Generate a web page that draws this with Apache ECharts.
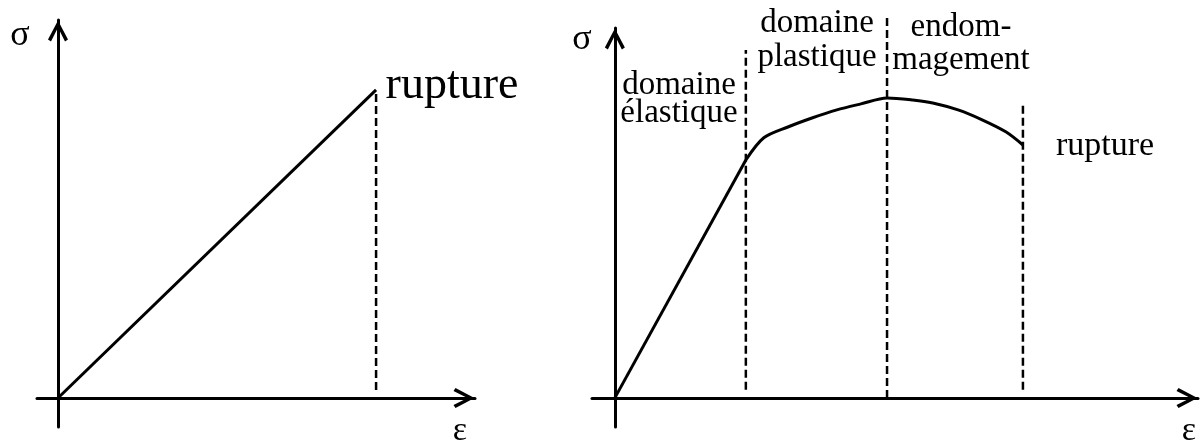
<!DOCTYPE html>
<html>
<head>
<meta charset="utf-8">
<script src="https://cdn.jsdelivr.net/npm/echarts@6/dist/echarts.min.js"></script>
<style>
  html, body { margin: 0; padding: 0; background: #fff; }
  #chart { width: 1203px; height: 446px; }
</style>
</head>
<body>
<div id="chart"></div>
<script>
// left diagram: purely elastic material, linear up to rupture
var brittleStrain = [0, 10];
var brittleStress = [0, 10];
var brittleRupture = [0.26, 9.93];   // dashed line, stress from / to

// right diagram: elastic, plastic, damage
var elasticStrain = [0, 3.21];
var elasticStress = [0, 7.93];
var plasticStrain = [3.21, 3.65, 4.24, 4.83, 5.44, 6.03, 6.67, 7.30, 7.79, 8.41, 9.0, 9.58, 10];
var plasticStress = [7.93, 8.67, 9.03, 9.33, 9.6, 9.8, 10, 9.93, 9.83, 9.6, 9.27, 8.87, 8.43];
var domainEdges = [3.21, 6.67, 10];
var domainEdgeFrom = [0.27, 0, 0.27];
var domainEdgeTo = [11.6, 12.67, 9.87];

function pairs(xs, ys) {
    return xs.map(function (x, i) { return [x, ys[i]]; });
}

var arrow = 'path://M10,0 L20,19 L17,21 L10,7 L3,21 L0,19 Z';

function axisLine() {
    return {
        show: true,
        onZero: true,
        symbol: ['none', arrow],
        symbolSize: [20, 22],
        symbolOffset: [0, -11],
        lineStyle: { color: '#000', width: 3 }
    };
}

function axis(extra) {
    var a = {
        type: 'value',
        axisLine: axisLine(),
        axisTick: { show: false },
        axisLabel: { show: false },
        splitLine: { show: false }
    };
    for (var k in extra) a[k] = extra[k];
    return a;
}

function solid(data, xi, smooth) {
    return {
        type: 'line',
        xAxisIndex: xi,
        yAxisIndex: xi,
        data: data,
        showSymbol: false,
        smooth: smooth || false,
        clip: false,
        lineStyle: { color: '#000', width: 3 }
    };
}

function dashed(x, from, to, xi) {
    return {
        type: 'line',
        xAxisIndex: xi,
        yAxisIndex: xi,
        data: [[x, from], [x, to]],
        showSymbol: false,
        clip: false,
        lineStyle: { color: '#000', width: 2.5, type: [8, 4] }
    };
}

var series = [
    solid(pairs(brittleStrain, brittleStress), 0),
    dashed(brittleStrain[1], brittleRupture[0], brittleRupture[1], 0),
    solid(pairs(elasticStrain, elasticStress), 1),
    solid(pairs(plasticStrain, plasticStress), 1, 0.3)
];
domainEdges.forEach(function (x, i) {
    series.push(dashed(x, domainEdgeFrom[i], domainEdgeTo[i], 1));
});

function label(text, x, y, size) {
    return {
        type: 'text',
        style: {
            text: text,
            x: x,
            y: y,
            font: size + 'px "Liberation Serif"',
            fill: '#000',
            textAlign: 'center',
            align: 'center',
            textVerticalAlign: 'middle',
            verticalAlign: 'middle'
        }
    };
}

var option = {
    backgroundColor: '#fff',
    animation: false,
    grid: [
        { left: 37, right: 728, top: 20, bottom: 19 },
        { left: 592, right: 5, top: 28, bottom: 19 }
    ],
    xAxis: [
        axis({ gridIndex: 0, min: -0.66, max: 13.11 }),
        axis({ gridIndex: 1, min: -0.56, max: 14.29 })
    ],
    yAxis: [
        axis({ gridIndex: 0, min: -0.94, max: 12.27 }),
        axis({ gridIndex: 1, min: -0.97, max: 12.33 })
    ],
    series: series,
    graphic: [
        label('σ', 20, 36, 36),
        label('ε', 460, 431, 34),
        label('rupture', 452, 86, 46),
        label('σ', 582, 40, 36),
        label('ε', 1189, 431, 34),
        label('domaine', 679, 85, 33),
        label('élastique', 679, 113, 33),
        label('domaine', 817, 23, 33),
        label('plastique', 817, 57, 33),
        label('endom-', 961, 27, 33),
        label('magement', 961, 60, 33),
        label('rupture', 1105, 146, 34)
    ]
};

var chart = echarts.init(document.getElementById('chart'));
chart.setOption(option);
</script>
</body>
</html>
